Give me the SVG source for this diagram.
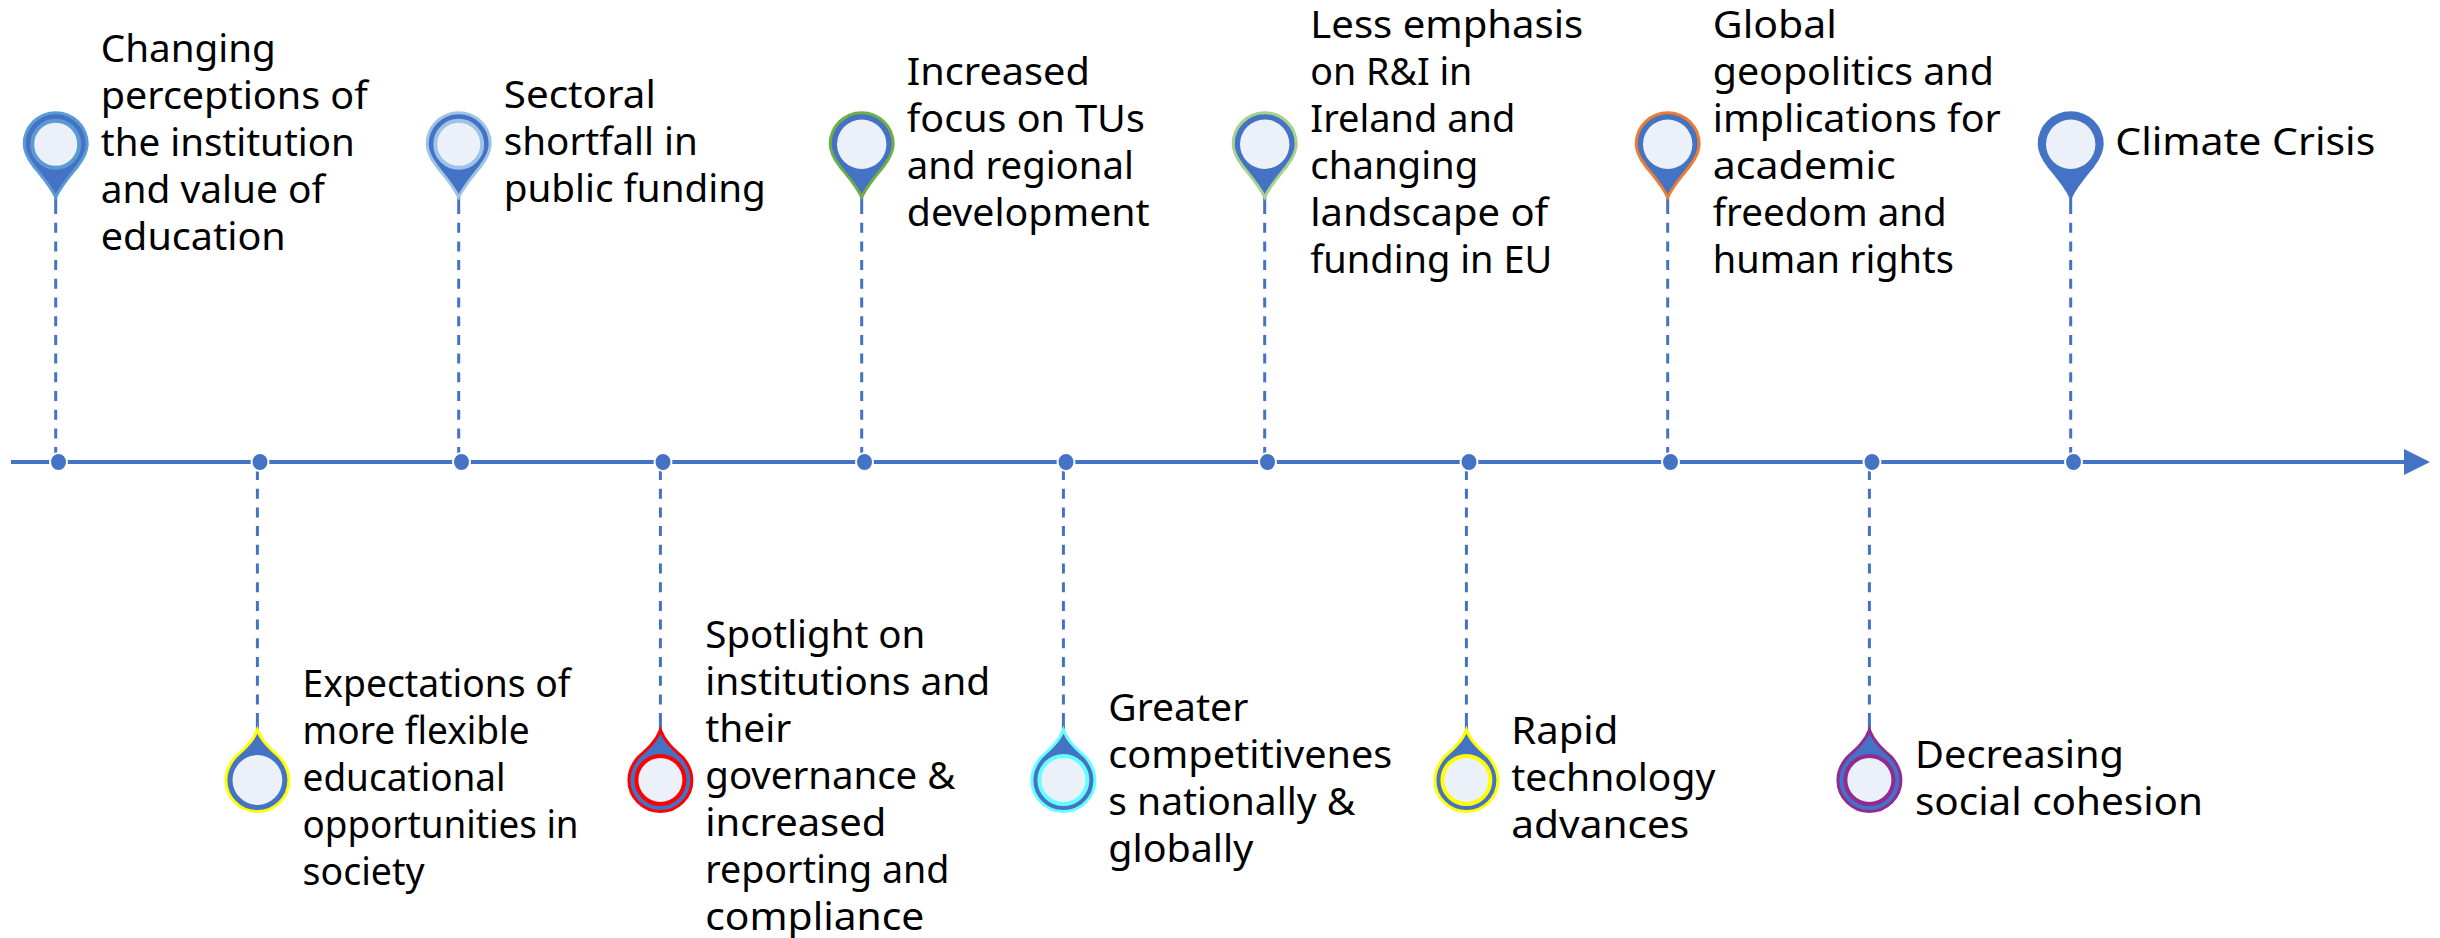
<svg xmlns="http://www.w3.org/2000/svg" width="2440" height="938" viewBox="0 0 2440 938">
<style>
text{font-family:"Noto Sans","Liberation Sans",sans-serif;font-size:38px;fill:#000}
.axis{stroke:#4472C4;stroke-width:4;fill:none}
.dash{stroke:#4472C4;stroke-width:3;stroke-dasharray:10 8.7;fill:none}
.tail{stroke:#4472C4;stroke-width:3;fill:none}
.dot{fill:#4472C4;stroke:#fff;stroke-width:2}
.body{fill:#4472C4;stroke-width:3}
.hole{fill:#EBF0F9;stroke-width:4}
</style>
<defs>
<path id="up" d="M0,53 C-5,42 -14,32 -22,22 C-28,14 -31.5,8 -31.5,0 A31.5,31.5 0 1 1 31.5,0 C31.5,8 28,14 22,22 C14,32 5,42 0,53Z"/>
<path id="down" d="M0,-50 C4,-39 13,-31 22,-23 C28,-16 31.5,-9 31.5,0 A31.5,31.5 0 1 1 -31.5,0 C-31.5,-9 -28,-16 -22,-23 C-13,-31 -4,-39 0,-50Z"/>
<marker id="arrow" markerUnits="userSpaceOnUse" markerWidth="27" markerHeight="28" refX="1" refY="14" orient="auto"><path d="M0,1 L26,14 L0,27Z" fill="#4472C4"/></marker>
</defs>
<g id="connectors">
<line class="axis" x1="11" y1="462" x2="2405" y2="462" marker-end="url(#arrow)"/>
<path class="dash" d="M55.7,204V456M458.7,204V456M861.7,204V456M1264.7,204V456M1667.7,204V456M2070.7,204V456"/>
<path class="tail" d="M55.7,196V204M458.7,196V204M861.7,196V204M1264.7,196V204M1667.7,196V204M2070.7,196V204"/>
<path class="dash" d="M257.4,470V722M660.4,470V722M1063.4,470V722M1466.4,470V722M1869.4,470V722"/>
<path class="tail" d="M257.4,722V732M660.4,722V732M1063.4,722V732M1466.4,722V732M1869.4,722V732"/>
</g>
<g id="n1"><ellipse class="dot" cx="58.5" cy="462" rx="8.5" ry="9"/><use href="#up" x="55.7" y="144.2" class="body" stroke="#5B9BD5"/><circle class="hole" cx="55.7" cy="144.2" r="23.5" stroke="#5B9BD5"/>
<text x="100.8" y="61.7" textLength="175" lengthAdjust="spacingAndGlyphs">Changing</text><text x="100.8" y="108.7" textLength="267" lengthAdjust="spacingAndGlyphs">perceptions of</text><text x="100.8" y="155.7" textLength="254" lengthAdjust="spacingAndGlyphs">the institution</text><text x="100.8" y="202.7" textLength="224" lengthAdjust="spacingAndGlyphs">and value of</text><text x="100.8" y="249.7" textLength="185" lengthAdjust="spacingAndGlyphs">education</text></g>
<g id="n2"><ellipse class="dot" cx="260" cy="462" rx="8.5" ry="9"/><use href="#down" x="257.4" y="780" class="body" stroke="#FFFF00"/><circle class="hole" cx="257.4" cy="780" r="24.9" stroke="none"/>
<text x="302.6" y="697.3" textLength="268" lengthAdjust="spacingAndGlyphs">Expectations of</text><text x="302.6" y="744.3" textLength="227" lengthAdjust="spacingAndGlyphs">more flexible</text><text x="302.6" y="791.3" textLength="203" lengthAdjust="spacingAndGlyphs">educational</text><text x="302.6" y="838.3" textLength="276" lengthAdjust="spacingAndGlyphs">opportunities in</text><text x="302.6" y="885.3" textLength="122" lengthAdjust="spacingAndGlyphs">society</text></g>
<g id="n3"><ellipse class="dot" cx="461.5" cy="462" rx="8.5" ry="9"/><use href="#up" x="458.7" y="144.2" class="body" stroke="#9DC3E6"/><circle class="hole" cx="458.7" cy="144.2" r="23.5" stroke="#9DC3E6"/>
<text x="503.8" y="108.3" textLength="152" lengthAdjust="spacingAndGlyphs">Sectoral</text><text x="503.8" y="155.3" textLength="194" lengthAdjust="spacingAndGlyphs">shortfall in</text><text x="503.8" y="202.3" textLength="262" lengthAdjust="spacingAndGlyphs">public funding</text></g>
<g id="n4"><ellipse class="dot" cx="663" cy="462" rx="8.5" ry="9"/><use href="#down" x="660.4" y="780" class="body" stroke="#FF0000"/><circle class="hole" cx="660.4" cy="780" r="24" stroke="#FF0000"/>
<text x="705.3" y="648" textLength="220" lengthAdjust="spacingAndGlyphs">Spotlight on</text><text x="705.3" y="695" textLength="285" lengthAdjust="spacingAndGlyphs">institutions and</text><text x="705.3" y="742" textLength="86" lengthAdjust="spacingAndGlyphs">their</text><text x="705.3" y="789" textLength="250" lengthAdjust="spacingAndGlyphs">governance &amp;</text><text x="705.3" y="836" textLength="181" lengthAdjust="spacingAndGlyphs">increased</text><text x="705.3" y="883" textLength="244" lengthAdjust="spacingAndGlyphs">reporting and</text><text x="705.3" y="930" textLength="219" lengthAdjust="spacingAndGlyphs">compliance</text></g>
<g id="n5"><ellipse class="dot" cx="864.5" cy="462" rx="8.5" ry="9"/><use href="#up" x="861.7" y="144.2" class="body" stroke="#70AD47"/><circle class="hole" cx="861.7" cy="144.2" r="24.7" stroke="none"/>
<text x="906.8" y="85" textLength="183" lengthAdjust="spacingAndGlyphs">Increased</text><text x="906.8" y="132" textLength="238" lengthAdjust="spacingAndGlyphs">focus on TUs</text><text x="906.8" y="179" textLength="227" lengthAdjust="spacingAndGlyphs">and regional</text><text x="906.8" y="226" textLength="243" lengthAdjust="spacingAndGlyphs">development</text></g>
<g id="n6"><ellipse class="dot" cx="1066" cy="462" rx="8.5" ry="9"/><use href="#down" x="1063.4" y="780" class="body" stroke="#66FFFF"/><circle class="hole" cx="1063.4" cy="780" r="24" stroke="#66FFFF"/>
<text x="1108.3" y="720.7" textLength="140" lengthAdjust="spacingAndGlyphs">Greater</text><text x="1108.3" y="767.7" textLength="284" lengthAdjust="spacingAndGlyphs">competitivenes</text><text x="1108.3" y="814.7" textLength="247" lengthAdjust="spacingAndGlyphs">s nationally &amp;</text><text x="1108.3" y="861.7" textLength="145" lengthAdjust="spacingAndGlyphs">globally</text></g>
<g id="n7"><ellipse class="dot" cx="1267.5" cy="462" rx="8.5" ry="9"/><use href="#up" x="1264.7" y="144.2" class="body" stroke="#A9D18E"/><circle class="hole" cx="1264.7" cy="144.2" r="24.7" stroke="none"/>
<text x="1310.3" y="38.3" textLength="273" lengthAdjust="spacingAndGlyphs">Less emphasis</text><text x="1310.3" y="85.3" textLength="162" lengthAdjust="spacingAndGlyphs">on R&amp;I in</text><text x="1310.3" y="132.3" textLength="205" lengthAdjust="spacingAndGlyphs">Ireland and</text><text x="1310.3" y="179.3" textLength="168" lengthAdjust="spacingAndGlyphs">changing</text><text x="1310.3" y="226.3" textLength="238" lengthAdjust="spacingAndGlyphs">landscape of</text><text x="1310.3" y="273.3" textLength="242" lengthAdjust="spacingAndGlyphs">funding in EU</text></g>
<g id="n8"><ellipse class="dot" cx="1469" cy="462" rx="8.5" ry="9"/><use href="#down" x="1466.4" y="780" class="body" stroke="#FFFF00"/><circle class="hole" cx="1466.4" cy="780" r="24" stroke="#FFFF00"/>
<text x="1511.3" y="744" textLength="107" lengthAdjust="spacingAndGlyphs">Rapid</text><text x="1511.3" y="791" textLength="204" lengthAdjust="spacingAndGlyphs">technology</text><text x="1511.3" y="838" textLength="178" lengthAdjust="spacingAndGlyphs">advances</text></g>
<g id="n9"><ellipse class="dot" cx="1670.5" cy="462" rx="8.5" ry="9"/><use href="#up" x="1667.7" y="144.2" class="body" stroke="#ED7D31"/><circle class="hole" cx="1667.7" cy="144.2" r="24.7" stroke="none"/>
<text x="1712.8" y="38.3" textLength="124" lengthAdjust="spacingAndGlyphs">Global</text><text x="1712.8" y="85.3" textLength="281" lengthAdjust="spacingAndGlyphs">geopolitics and</text><text x="1712.8" y="132.3" textLength="288" lengthAdjust="spacingAndGlyphs">implications for</text><text x="1712.8" y="179.3" textLength="183" lengthAdjust="spacingAndGlyphs">academic</text><text x="1712.8" y="226.3" textLength="234" lengthAdjust="spacingAndGlyphs">freedom and</text><text x="1712.8" y="273.3" textLength="241" lengthAdjust="spacingAndGlyphs">human rights</text></g>
<g id="n10"><ellipse class="dot" cx="1872" cy="462" rx="8.5" ry="9"/><use href="#down" x="1869.4" y="780" class="body" stroke="#932A92"/><circle class="hole" cx="1869.4" cy="780" r="24" stroke="#932A92"/>
<text x="1915" y="768" textLength="209" lengthAdjust="spacingAndGlyphs">Decreasing</text><text x="1915" y="815" textLength="288" lengthAdjust="spacingAndGlyphs">social cohesion</text></g>
<g id="n11"><ellipse class="dot" cx="2073.5" cy="462" rx="8.5" ry="9"/><use href="#up" x="2070.7" y="144.2" class="body" stroke="#4472C4"/><circle class="hole" cx="2070.7" cy="144.2" r="24.7" stroke="none"/>
<text x="2115.3" y="155" textLength="260" lengthAdjust="spacingAndGlyphs">Climate Crisis</text></g>
</svg>
